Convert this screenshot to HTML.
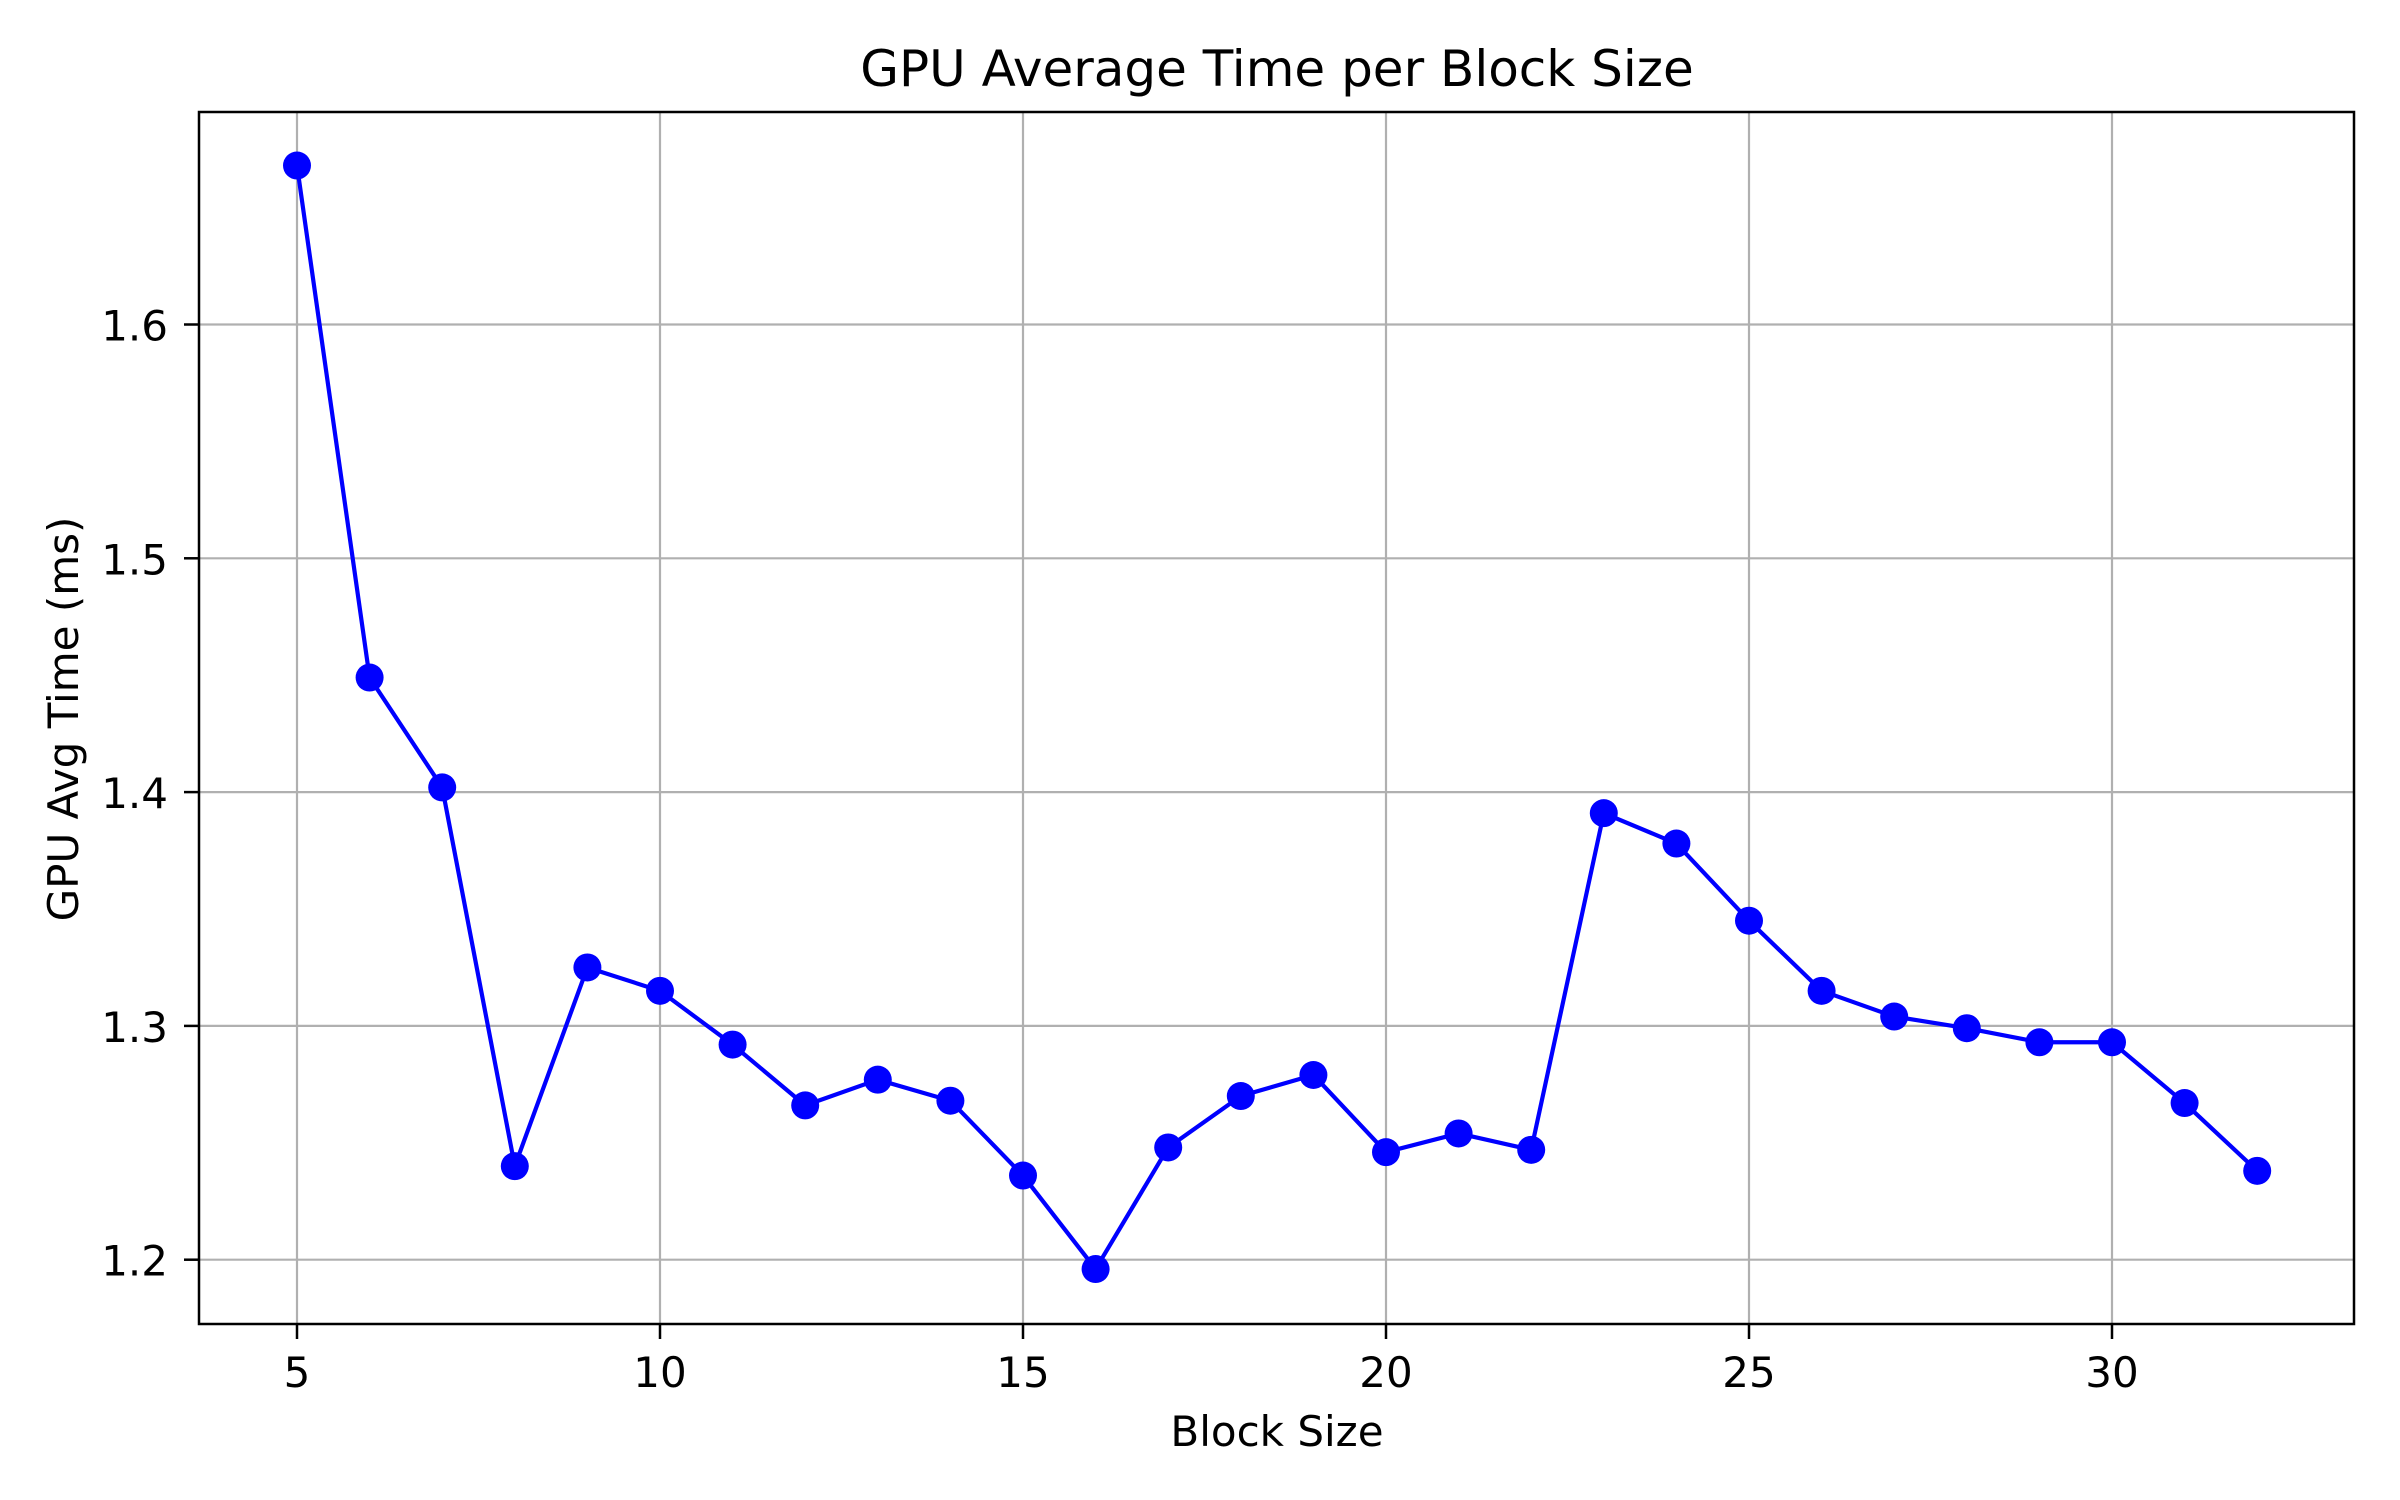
<!DOCTYPE html>
<html><head><meta charset="utf-8"><style>
html,body{margin:0;padding:0;background:#fff;}
svg{display:block;font-family:"DejaVu Sans","Liberation Sans",sans-serif;}
</style></head><body>
<svg id="chart" width="2400" height="1500" viewBox="0 0 2400 1500" xmlns="http://www.w3.org/2000/svg">
<rect width="2400" height="1500" fill="#fff"/>
<g id="grid"></g>
<g id="ticks"></g>
<g id="series"></g>
<rect x="199" y="112" width="2155" height="1212" fill="none" stroke="#000" stroke-width="2.5"/>
<text x="1277" y="86" font-size="50" text-anchor="middle">GPU Average Time per Block Size</text>
<text x="1277" y="1446" font-size="42" text-anchor="middle">Block Size</text>
<text transform="translate(78,719) rotate(-90)" font-size="42" text-anchor="middle">GPU Avg Time (ms)</text>
</svg>
<script>
const blockSizes=[5,6,7,8,9,10,11,12,13,14,15,16,17,18,19,20,21,22,23,24,25,26,27,28,29,30,31,32];
const avgTimes=[1.668,1.449,1.402,1.240,1.325,1.315,1.292,1.266,1.277,1.268,1.236,1.196,1.248,1.270,1.279,1.246,1.254,1.247,1.391,1.378,1.345,1.315,1.304,1.299,1.293,1.293,1.267,1.238];
const xTicks=[5,10,15,20,25,30];
const yTicks=[1.2,1.3,1.4,1.5,1.6];
const NS="http://www.w3.org/2000/svg";
function xs(v){return 297+(v-5)*(2112-297)/25;}
function ys(v){return 1259.7-(v-1.2)*(1259.7-324.5)/0.4;}
function mk(t,a){const e=document.createElementNS(NS,t);for(const k in a)e.setAttribute(k,a[k]);return e;}
const grid=document.getElementById('grid'),ticks=document.getElementById('ticks'),series=document.getElementById('series');
xTicks.forEach(v=>{
 const x=xs(v);
 const g=mk('line',{x1:x,x2:x,y1:112,y2:1324,stroke:'#b0b0b0','stroke-width':2.2});
 
 
 grid.appendChild(g);
 const t=mk('line',{x1:x,x2:x,y1:1324,y2:1339,stroke:'#000','stroke-width':2.5});
 
 
 ticks.appendChild(t);
 const l=mk('text',{x:x,y:1387,'font-size':42,'text-anchor':'middle'});
 l.textContent=v;
 
 
 ticks.appendChild(l);
});
yTicks.forEach(v=>{
 const y=ys(v);
 const g=mk('line',{x1:199,x2:2354,y1:y,y2:y,stroke:'#b0b0b0','stroke-width':2.2});
 
 
 grid.appendChild(g);
 const t=mk('line',{x1:184,x2:199,y1:y,y2:y,stroke:'#000','stroke-width':2.5});
 
 
 ticks.appendChild(t);
 const l=mk('text',{x:168,y:y+16,'font-size':42,'text-anchor':'end'});
 l.textContent=v.toFixed(1);
 
 
 ticks.appendChild(l);
});
const pts=blockSizes.map((b,i)=>xs(b)+','+ys(avgTimes[i])).join(' ');
const pl=mk('polyline',{points:pts,fill:'none',stroke:'#0000ff','stroke-width':4.2,'stroke-linejoin':'round'});


series.appendChild(pl);
blockSizes.forEach((b,i)=>{
 const c=mk('circle',{cx:xs(b),cy:ys(avgTimes[i]),r:14,fill:'#0000ff'});
 
 
 series.appendChild(c);
});
</script>
</body></html>
